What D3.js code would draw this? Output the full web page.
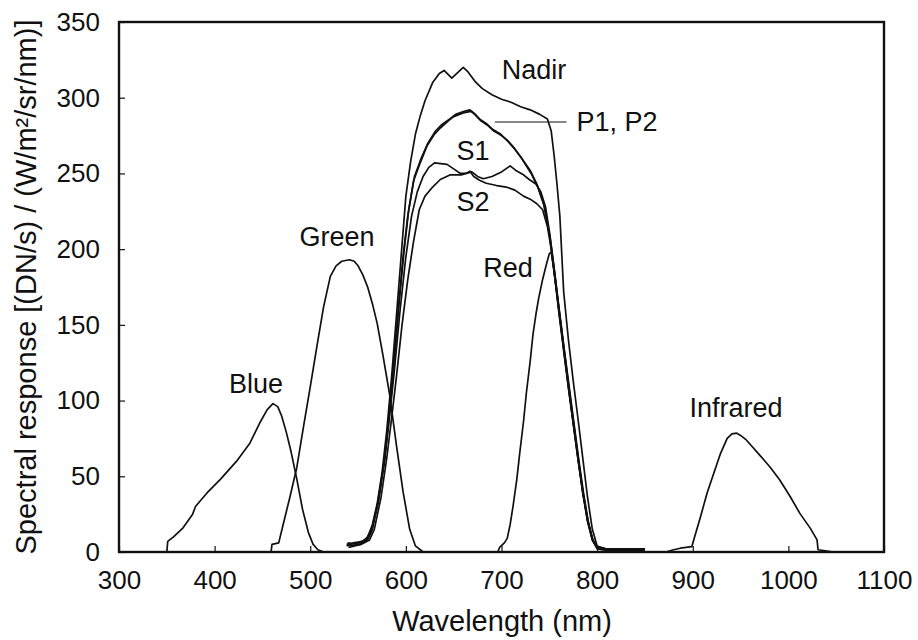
<!DOCTYPE html>
<html><head><meta charset="utf-8">
<script src="https://cdn.jsdelivr.net/npm/d3@7"></script>
<style>body{margin:0;background:#fff}svg{display:block}text{font-family:"Liberation Sans",Arial,sans-serif;fill:#111}</style>
</head><body><svg id="c" width="918" height="640"></svg>
<script>
const xTicks=[300,400,500,600,700,800,900,1000,1100];
const yTicks=[0,50,100,150,200,250,300,350];
const blue=[[350,0],[351,7],[357,10],[367,16],[377,25],[380,30],[392,39],[406,48],[423,60],[437,72],[447,85],[455,94],[461,98],[466,96],[470,90],[475,79],[480,66],[486,48],[492,28],[498,13],[503,5],[508,1.5],[514,0],[530,0]];
const green=[[459,0],[460,5],[467,6],[472,19],[479,37],[486,56],[493,83],[500,109],[507,136],[514,162],[521,182],[527,189],[533,192],[541,193],[546,192],[550,189],[555,183],[560,175],[565,164],[570,151],[576,130],[583,104],[590,71],[597,40],[604,15],[610,4],[618,0],[660,0]];
const red=[[684,0],[696,0],[698,3],[703,6],[706,9],[709,18],[712,30],[716,48],[719,65],[723,86],[726,105],[730,126],[733,144],[736,157],[739,168],[743,180],[747,190],[750,197],[752,198],[755,186],[760,160],[765,134],[770,109],[775,85],[780,61],[785,39],[790,21],[795,8],[800,2],[810,1],[850,1]];
const infrared=[[872,0],[880,1.5],[887,2.5],[899,3.5],[902,10],[908,23],[915,39],[922,52],[929,65],[936,75],[941,78],[946,78.5],[950,77],[956,74],[963,69],[970,64],[981,56],[991,47.5],[1002,36.5],[1012,25.5],[1023,15.6],[1030,8],[1031,1.5],[1037,1],[1047,0]];
const nadir=[[538,4],[545,6],[555,7],[560,10],[565,18],[570,32],[575,52],[580,80],[585,115],[590,155],[595,195],[600,235],[605,258],[610,276],[615,288],[620,298],[628,310],[635,316],[640,318],[648,313],[655,317],[660,320],[665,317],[672,311],[680,306],[690,302],[700,299],[710,297],[720,294],[730,292],[740,289],[748,286],[752,278],[755,262],[758,243],[761,222],[765,172],[770,140],[775,113],[780,88],[785,62],[790,36],[795,15],[800,4],[810,2],[830,2],[850,2]];
const p1=[[538,5],[550,6],[558,8],[563,12],[570,30],[577,58],[582,88],[587,122],[592,160],[597,195],[602,222],[608,245],[615,257],[622,268],[630,276],[636,280],[645,285],[650,287.5],[660,290],[668,291],[672,289],[678,285],[685,282],[692,278],[700,275],[706,272],[713,267],[720,261],[730,252],[737,243],[744,230],[750,210],[755,185],[760,160],[765,135],[770,110],[775,86],[780,62],[785,39],[790,20],[795,8],[800,3],[810,2],[850,2]];
const p2=[[539,6],[551,5],[559,9],[564,14],[571,33],[578,62],[583,92],[588,127],[593,165],[598,198],[603,226],[609,248],[616,260],[623,270],[631,278],[637,282],[646,286],[652,289],[661,291],[667,292],[671,290],[677,286],[684,283],[691,279],[699,276],[707,271],[714,266],[721,260],[731,250],[738,241],[745,228],[751,207],[756,182],[761,157],[766,132],[771,108],[776,84],[781,60],[786,38],[791,19],[796,7],[801,3],[812,1],[850,1]];
const s1=[[540,4],[552,5],[560,8],[565,15],[572,36],[578,62],[583,90],[588,120],[594,160],[600,195],[606,222],[612,238],[618,248],[624,254],[630,257],[643,256],[650,253],[657,250],[663,250],[669,251],[675,248],[681,246.5],[690,248],[700,251],[709,255],[715,252],[722,249.5],[729,246],[736,243],[741,238],[746,228],[750,212],[755,188],[760,161],[765,136],[770,111],[775,87],[780,63],[785,40],[790,21],[795,8],[800,3],[810,2],[850,2]];
const s2=[[540,3],[553,5],[562,8],[567,15],[574,36],[580,62],[585,88],[590,115],[596,150],[602,180],[608,205],[614,226],[620,235],[628,241],[636,246],[646,249],[652,249],[658,249],[663,250],[667,251.5],[671,248],[677,245.5],[684,243.5],[695,242],[705,241],[714,239],[723,235],[730,233],[737,230],[743,226],[748,215],[752,200],[756,180],[760,158],[765,133],[770,108],[775,85],[780,62],[785,40],[790,22],[795,9],[800,3],[810,2],[850,2]];
const series=[blue,green,red,infrared,nadir,p1,p2,s1,s2];
const labels=[
 {t:"Blue",x:256,y:393},{t:"Green",x:337,y:246},{t:"Red",x:508,y:277},
 {t:"Infrared",x:736,y:417},{t:"Nadir",x:534,y:79},{t:"P1, P2",x:617,y:131},
 {t:"S1",x:473,y:160},{t:"S2",x:473,y:211}];

const svg=d3.select("#c");
const x=d3.scaleLinear().domain([300,1100]).range([119,884]);
const y=d3.scaleLinear().domain([0,350]).range([552,22]);
const line=d3.line().x(d=>x(d[0])).y(d=>y(d[1]));

svg.selectAll("path.s").data(series).join("path").attr("class","s")
 .attr("d",line).attr("fill","none").attr("stroke","#111").attr("stroke-width",1.7).attr("stroke-linejoin","round");

// frame
svg.append("rect").attr("x",119).attr("y",22).attr("width",884-119).attr("height",552-22)
 .attr("fill","none").attr("stroke","#111").attr("stroke-width",2.4);

const gx=svg.append("g").attr("transform","translate(0,552)")
 .call(d3.axisBottom(x).tickValues(xTicks).tickSize(-6).tickPadding(24).tickFormat(d3.format("d")));
const gy=svg.append("g").attr("transform","translate(119,0)")
 .call(d3.axisLeft(y).tickValues(yTicks).tickSize(-6).tickPadding(19).tickFormat(d3.format("d")));
[gx,gy].forEach(g=>{g.select(".domain").remove();g.selectAll("line").attr("stroke","#111").attr("stroke-width",1.2);
 g.selectAll("text").attr("font-size",26).attr("fill","#111").style("font-family","'Liberation Sans',Arial,sans-serif");});
gx.selectAll("text").attr("dy","0.71em").attr("y",19);

svg.append("line").attr("x1",x(693)).attr("x2",x(768)).attr("y1",122).attr("y2",122).attr("stroke","#111").attr("stroke-width",1);

svg.selectAll("text.lab").data(labels).join("text").attr("class","lab")
 .attr("x",d=>d.x).attr("y",d=>d.y).attr("text-anchor","middle").attr("font-size",27).text(d=>d.t);

svg.append("text").attr("x",502).attr("y",631).attr("text-anchor","middle").attr("font-size",29).text("Wavelength (nm)");
svg.append("text").attr("transform","translate(36,287) rotate(-90)").attr("text-anchor","middle").attr("font-size",29)
 .text("Spectral response [(DN/s) / (W/m²/sr/nm)]");
</script></body></html>
